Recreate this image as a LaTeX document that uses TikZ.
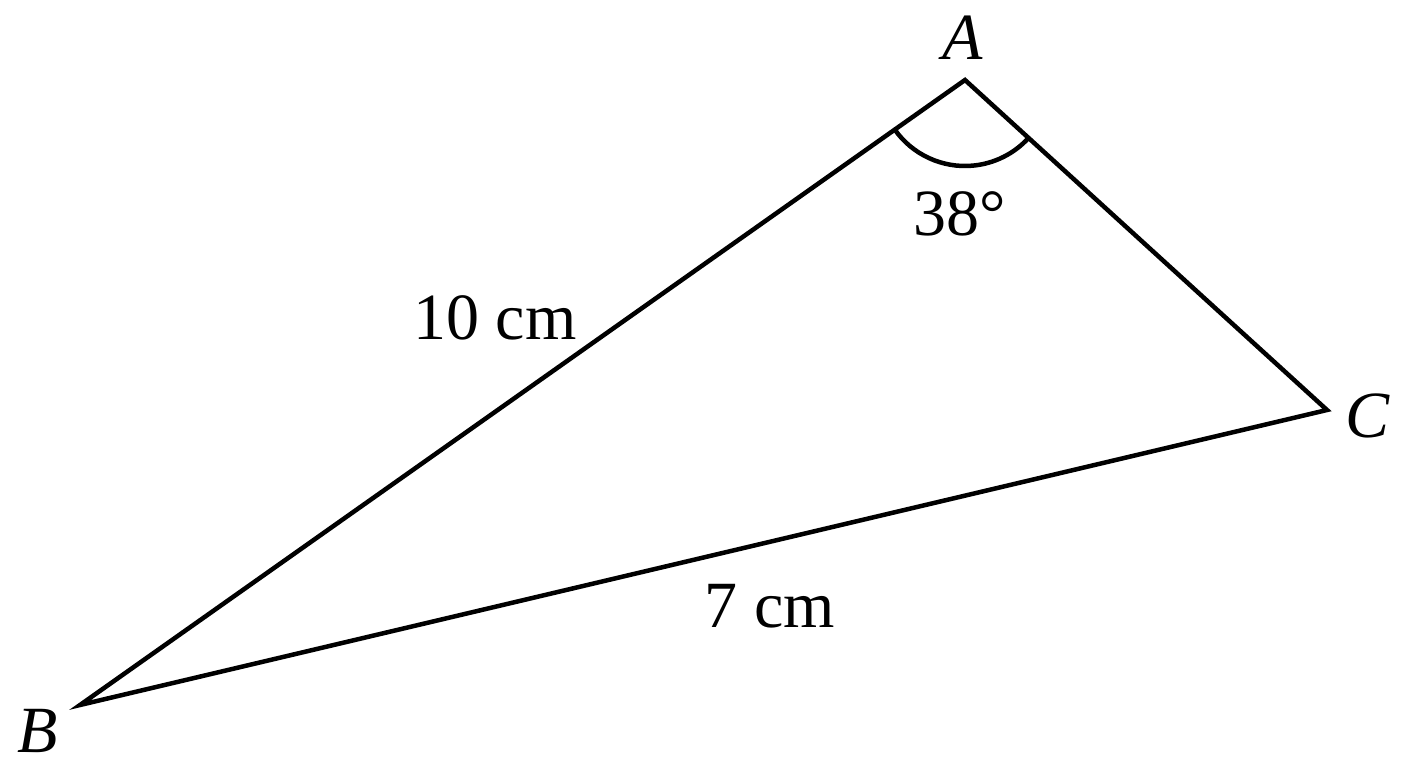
\documentclass[tikz,border=0pt]{standalone}
\usepackage{fontspec}
\setmainfont{Liberation Serif}
\begin{document}
\begin{tikzpicture}[x=1pt,y=-1pt,
  edge/.style={line width=4.5pt, line join=miter},
  lbl/.style={font=\fontsize{66}{76}\selectfont, inner sep=0pt}]
\useasboundingbox (0,0) rectangle (1408,768);
\coordinate (A) at (965,80);
\coordinate (B) at (80,705);
\coordinate (C) at (1327,410);
\draw[edge] (A) -- (B) -- (C) -- cycle;
\draw[line width=4.5pt] (A) ++(144.77:86) arc[start angle=144.77, end angle=42.35, radius=86];
\node[lbl] (la) at (963,38) {\textit{A}};
\node[lbl] (lb) at (38,731) {\textit{B}};
\node[lbl] (lc) at (1368,416) {\textit{C}};
\node[lbl] (ang) at (960,214) {38°};
\node[lbl] (ab) at (495,318) {10 cm};
\node[lbl] (bc) at (770,606) {7 cm};
\end{tikzpicture}
\end{document}
